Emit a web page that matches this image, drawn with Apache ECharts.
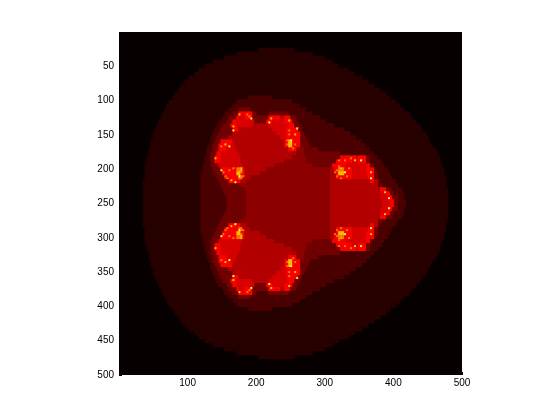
<!DOCTYPE html>
<html>
<head>
<meta charset="utf-8">
<script src="https://cdn.jsdelivr.net/npm/echarts@6/dist/echarts.min.js"></script>
<style>
html, body { margin: 0; background: #fff; }
#main { width: 560px; height: 420px; }
</style>
</head>
<body>
<div id="main"></div>
<script>
// hot colormap steps seen in the image, darkest first
const levelColors = ["#070000", "#280000", "#4c0000", "#740000", "#920000", "#b80000",
    "#dc0000", "#ff0000", "#ff7800", "#ffc000", "#ffff30"];

const xTicks = [100, 200, 300, 400, 500];
const yTicks = [50, 100, 150, 200, 250, 300, 350, 400, 450, 500];

// each row: "level:endColumn" runs across 172 columns, rows are read top to bottom
const rowRuns = [
    "0:172", "0:172", "0:172", "0:172",
    "0:70 1:88 0:172",
    "0:59 1:97 0:172",
    "0:53 1:103 0:172",
    "0:47 1:107 0:172",
    "0:43 1:110 0:172",
    "0:40 1:115 0:172",
    "0:38 1:118 0:172",
    "0:35 1:122 0:172",
    "0:33 1:125 0:172",
    "0:31 1:128 0:172",
    "0:30 1:131 0:172",
    "0:28 1:134 0:172",
    "0:27 1:65 2:77 1:136 0:172",
    "0:25 1:59 2:87 1:139 0:172",
    "0:24 1:57 2:91 1:141 0:172",
    "0:23 1:55 2:60 3:66 2:94 1:143 0:172",
    "0:22 1:53 2:57 3:60 7:62 6:63 7:67 3:69 2:75 3:85 2:97 1:146 0:172",
    "0:21 1:52 2:55 3:59 7:60 6:63 7:67 3:75 7:81 5:83 7:86 3:89 2:101 1:147 0:172",
    "0:20 1:50 2:54 3:57 7:59 6:68 3:74 7:77 6:83 7:87 3:90 2:104 1:149 0:172",
    "0:19 1:49 2:52 3:56 7:59 6:67 5:75 6:85 7:88 3:91 2:108 1:151 0:172",
    "0:18 1:48 2:51 3:57 7:60 5:77 6:84 7:90 3:92 2:113 1:152 0:172",
    "0:17 1:47 2:50 3:57 5:79 6:84 7:91 3:93 2:116 1:154 0:172",
    "0:17 1:46 2:49 3:55 5:81 6:84 7:91 3:94 2:119 1:155 0:172",
    "0:16 1:46 2:48 3:51 7:57 5:83 7:85 9:87 7:91 3:95 2:122 1:156 0:172",
    "0:16 1:45 2:47 3:50 7:56 6:58 5:83 7:85 9:87 7:91 3:96 2:124 1:157 0:172",
    "0:15 1:44 2:47 3:50 7:54 6:59 5:85 7:89 4:93 3:100 2:126 1:159 0:172",
    "0:15 1:44 2:46 3:49 7:51 6:60 5:89 4:93 3:111 2:128 1:160 0:172",
    "0:14 1:43 2:46 3:48 7:51 6:61 5:87 4:94 3:111 7:119 6:120 7:124 3:126 2:130 1:161 0:172",
    "0:14 1:43 2:46 3:48 7:51 6:61 5:83 4:94 3:109 7:117 6:120 7:124 3:126 2:132 1:161 0:172",
    "0:13 1:42 2:46 3:50 6:62 5:78 4:97 3:107 7:114 6:124 7:126 3:127 2:133 1:162 0:172",
    "0:13 1:42 2:47 3:51 7:59 8:61 9:62 7:63 5:74 4:106 5:108 7:110 8:113 7:117 6:124 7:128 3:129 2:135 1:163 0:172",
    "0:13 1:41 2:48 3:52 7:59 9:61 7:63 5:71 4:106 5:109 7:110 9:113 7:117 6:124 7:128 3:130 2:136 1:163 0:172",
    "0:13 1:41 2:49 3:53 7:60 8:62 5:66 4:106 5:109 7:117 6:125 7:128 3:130 2:137 1:164 0:172",
    "0:12 1:41 2:50 3:55 7:61 5:64 4:106 5:126 7:128 5:130 3:131 2:139 1:164 0:172",
    "0:12 1:41 2:51 3:61 4:106 5:130 3:132 2:140 1:164 0:172",
    "0:12 1:41 2:52 3:63 4:106 5:131 7:134 3:137 2:142 1:165 0:172",
    "0:12 1:41 2:53 3:64 4:106 5:131 6:134 7:136 3:138 2:143 1:165 0:172",
    "0:12 1:41 2:54 3:64 4:106 5:131 6:135 7:137 3:140 2:143 1:165 0:172",
    "0:12 1:41 2:54 3:64 4:106 5:132 6:136 7:138 3:140 2:144 1:165 0:172",
    // lower half
    "0:12 1:41 2:54 3:64 4:106 5:132 6:136 7:138 3:140 2:144 1:165 0:172",
    "0:12 1:41 2:54 3:64 4:106 5:131 6:135 7:137 3:140 2:143 1:165 0:172",
    "0:12 1:41 2:53 3:64 4:106 5:131 6:134 7:136 3:138 2:143 1:165 0:172",
    "0:12 1:41 2:52 3:63 4:106 5:131 7:134 3:137 2:142 1:165 0:172",
    "0:12 1:41 2:51 3:61 4:106 5:130 3:132 2:140 1:164 0:172",
    "0:12 1:41 2:50 3:55 7:61 5:64 4:106 5:126 7:128 5:130 3:131 2:139 1:164 0:172",
    "0:13 1:41 2:49 3:53 7:60 8:62 5:66 4:106 5:109 7:117 6:125 7:128 3:130 2:137 1:164 0:172",
    "0:13 1:41 2:48 3:52 7:59 9:61 7:63 5:71 4:106 5:109 7:110 9:113 7:117 6:124 7:128 3:130 2:136 1:163 0:172",
    "0:13 1:42 2:47 3:51 7:59 8:61 9:62 7:63 5:74 4:106 5:108 7:110 8:113 7:117 6:124 7:128 3:129 2:135 1:163 0:172",
    "0:13 1:42 2:46 3:50 6:62 5:78 4:97 3:107 7:114 6:124 7:126 3:127 2:133 1:162 0:172",
    "0:14 1:43 2:46 3:48 7:51 6:61 5:83 4:94 3:109 7:117 6:120 7:124 3:126 2:132 1:161 0:172",
    "0:14 1:43 2:46 3:48 7:51 6:61 5:87 4:94 3:111 7:119 6:120 7:124 3:126 2:130 1:161 0:172",
    "0:15 1:44 2:46 3:49 7:51 6:60 5:89 4:93 3:111 2:128 1:160 0:172",
    "0:15 1:44 2:47 3:50 7:54 6:59 5:85 7:89 4:93 3:100 2:126 1:159 0:172",
    "0:16 1:45 2:47 3:50 7:56 6:58 5:83 7:85 9:87 7:91 3:96 2:124 1:157 0:172",
    "0:16 1:46 2:48 3:51 7:57 5:83 7:85 9:87 7:91 3:95 2:122 1:156 0:172",
    "0:17 1:46 2:49 3:55 5:81 6:84 7:91 3:94 2:119 1:155 0:172",
    "0:17 1:47 2:50 3:57 5:79 6:84 7:91 3:93 2:116 1:154 0:172",
    "0:18 1:48 2:51 3:57 7:60 5:77 6:84 7:90 3:92 2:113 1:152 0:172",
    "0:19 1:49 2:52 3:56 7:59 6:67 5:75 6:85 7:88 3:91 2:108 1:151 0:172",
    "0:20 1:50 2:54 3:57 7:59 6:68 3:74 7:77 6:83 7:87 3:90 2:104 1:149 0:172",
    "0:21 1:52 2:55 3:59 7:60 6:63 7:67 3:75 7:81 5:83 7:86 3:89 2:101 1:147 0:172",
    "0:22 1:53 2:57 3:60 7:62 6:63 7:67 3:69 2:75 3:85 2:97 1:146 0:172",
    "0:23 1:55 2:60 3:66 2:94 1:143 0:172",
    "0:24 1:57 2:91 1:141 0:172",
    "0:25 1:59 2:87 1:139 0:172",
    "0:27 1:65 2:77 1:136 0:172",
    "0:28 1:134 0:172",
    "0:30 1:131 0:172",
    "0:31 1:128 0:172",
    "0:33 1:125 0:172",
    "0:35 1:122 0:172",
    "0:38 1:118 0:172",
    "0:40 1:115 0:172",
    "0:43 1:110 0:172",
    "0:47 1:107 0:172",
    "0:53 1:103 0:172",
    "0:59 1:97 0:172",
    "0:70 1:88 0:172",
    "0:172", "0:172", "0:172", "0:172",
];

// bright specks on the bulbs: column, fine row (two per entry of rowRuns), level
const hotSpots = [
    [57, 47, 9], [57, 49, 10], [60, 41, 9], [64, 41, 8], [66, 43, 10], [65, 42, 8],
    [51, 57, 8], [53, 56, 9], [55, 57, 10], [48, 63, 9], [51, 69, 10], [53, 72, 8],
    [56, 74, 9], [58, 75, 10], [61, 70, 8], [60, 72, 10], [76, 43, 9], [75, 45, 10],
    [85, 44, 9], [84, 56, 8], [86, 54, 10], [88, 51, 9], [89, 48, 10], [85, 51, 8],
    [113, 70, 10], [111, 68, 9], [109, 69, 8], [118, 64, 9], [121, 64, 10], [126, 70, 9],
    [126, 73, 10], [133, 80, 9], [135, 83, 10], [110, 64, 8],
    [110, 67, 8], [108, 70, 8], [109, 72, 8], [111, 73, 8], [114, 72, 8], [115, 68, 8],
    [113, 64, 8], [116, 63, 8], [54, 73, 8], [52, 70, 8], [55, 69, 8], [57, 68, 8],
    [60, 68, 8], [62, 72, 8], [85, 49, 8], [88, 56, 8], [84, 54, 8], [87, 58, 8],
    [57, 124, 9], [57, 122, 10], [60, 130, 9], [64, 130, 8], [66, 128, 10], [65, 129, 8],
    [51, 114, 8], [53, 115, 9], [55, 114, 10], [48, 108, 9], [51, 102, 10], [53, 99, 8],
    [56, 97, 9], [58, 96, 10], [61, 101, 8], [60, 99, 10], [76, 128, 9], [75, 126, 10],
    [85, 127, 9], [84, 115, 8], [86, 117, 10], [88, 120, 9], [89, 123, 10], [85, 120, 8],
    [113, 101, 10], [111, 103, 9], [109, 102, 8], [118, 107, 9], [121, 107, 10], [126, 101, 9],
    [126, 98, 10], [133, 91, 9], [135, 88, 10], [110, 107, 8],
    [110, 104, 8], [108, 101, 8], [109, 99, 8], [111, 98, 8], [114, 99, 8], [115, 103, 8],
    [113, 107, 8], [116, 108, 8], [54, 98, 8], [52, 101, 8], [55, 102, 8], [57, 103, 8],
    [60, 103, 8], [62, 99, 8], [85, 122, 8], [88, 115, 8], [84, 117, 8], [87, 113, 8],
];

const cols = [];
const rows = [];
for (let i = 0; i < 172; i++) {
    cols.push(i);
    rows.push(i);
}

const cells = new Map();
rowRuns.forEach((line, r) => {
    let start = 0;
    for (const run of line.split(" ")) {
        const [level, end] = run.split(":").map(Number);
        for (let c = start; c < end; c++) {
            cells.set(c + "," + (2 * r), level);
            cells.set(c + "," + (2 * r + 1), level);
        }
        start = end;
    }
});
for (const [c, r, level] of hotSpots) {
    cells.set(c + "," + r, level);
}

const data = [];
for (const [key, level] of cells) {
    if (level > 0) {
        const [c, r] = key.split(",").map(Number);
        data.push([c, r, level]);
    }
}

const axisFont = { color: "#000", fontSize: 10, fontFamily: "Liberation Sans" };
const chart = echarts.init(document.getElementById("main"));

chart.setOption({
    animation: false,
    backgroundColor: "#fff",
    grid: {
        left: 119, top: 32, width: 343, height: 343,
        show: true, backgroundColor: levelColors[0], borderWidth: 0,
    },
    visualMap: {
        type: "piecewise",
        show: false,
        seriesIndex: 0,
        dimension: 2,
        pieces: levelColors.map((color, i) => ({ value: i, color: color })),
    },
    xAxis: [
        { type: "category", data: cols, show: false },
        {
            type: "value", min: 0, max: 500, interval: 100, position: "bottom",
            axisLine: { show: false },
            axisTick: { show: true, inside: true, length: 3, lineStyle: { color: "#000" } },
            axisLabel: Object.assign({ margin: 3, showMinLabel: false, showMaxLabel: true,
                formatter: (v) => (xTicks.includes(v) ? String(v) : "") }, axisFont),
            splitLine: { show: false },
        },
    ],
    yAxis: [
        { type: "category", data: rows, inverse: true, show: false },
        {
            type: "value", min: 0, max: 500, interval: 50, inverse: true, position: "left",
            axisLine: { show: false },
            axisTick: { show: true, inside: true, length: 3, lineStyle: { color: "#000" } },
            axisLabel: Object.assign({ margin: 5, showMinLabel: false, showMaxLabel: true,
                padding: [0, 0, 3, 0],
                formatter: (v) => (yTicks.includes(v) ? String(v) : "") }, axisFont),
            splitLine: { show: false },
        },
    ],
    series: [{
        type: "heatmap",
        xAxisIndex: 0,
        yAxisIndex: 0,
        data: data,
        progressive: 0,
        silent: true,
        emphasis: { disabled: true },
    }],
});
</script>
</body>
</html>
